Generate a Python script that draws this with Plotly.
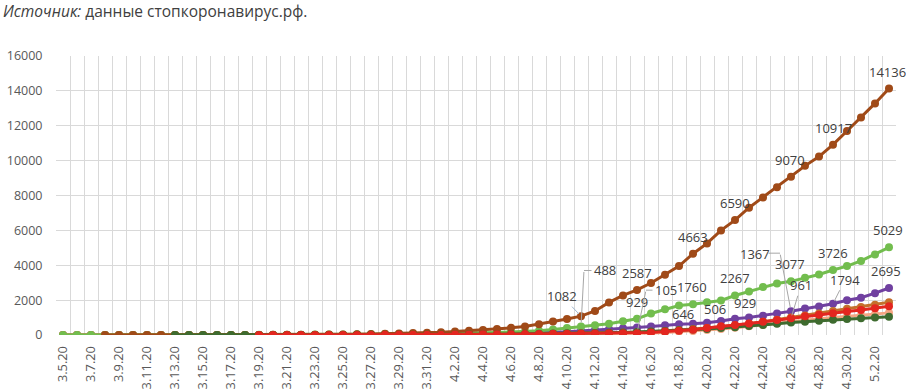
import pandas as pd
import plotly.graph_objects as go

# ---- categories (3/5/2020 .. 5/3/2020) ----
dates = pd.date_range("2020-03-05", "2020-05-03", freq="D")
date_labels = [f"{d.month}.{d.day}.20" for d in dates]
tick_idx = list(range(0, len(dates), 2))
tick_text = [date_labels[i] for i in tick_idx]

N = None
# ---- series values ----
brown = [N, N, N,
         0, 0, 0, 0, 0, 0, 1, 1, 1, 2, 3,
         5, 8, 12, 17, 21, 27, 34, 42, 55, 70, 90, 110, 135, 160,
         200, 245, 290, 340, 410, 490, 610, 770, 920, 1082,
         1380, 1870, 2270, 2587, 2980, 3450, 3950, 4663, 5250, 6000, 6590, 7300,
         7890, 8480, 9070, 9700, 10230, 10917, 11700, 12480, 13280, 14136]

lgreen = [0, 0, 0, 0, 0, 0, 1, 1, 1, 2, 3, 4, 5, 6,
          8, 10, 13, 17, 22, 27, 33, 40, 47, 55, 62, 70, 80, 90,
          100, 115, 130, 150, 175, 205, 250, 320, 400,
          488, 560, 650, 790, 929, 1230, 1470, 1690, 1760, 1880, 1980, 2267,
          2500, 2750, 2950, 3077, 3280, 3470, 3726, 3950, 4250, 4620, 5029]

purple = [0] * 20 + [1, 2, 4, 6, 8, 12, 16, 22, 30, 40,
                     55, 70, 90, 110, 130, 160, 190, 230,
                     280, 330, 380, 430, 490, 560, 610,
                     646, 700, 800, 929, 1010, 1110, 1240, 1367, 1520, 1640,
                     1794, 1990, 2140, 2400, 2695]

red = [N] * 14 + [0, 0, 1, 1, 2, 3, 4, 5, 6, 8, 10, 13, 16, 20, 25, 30,
                  36, 42, 48, 55, 62, 70, 78, 85, 90, 95, 100,
                  105, 150, 200, 250, 300, 400, 506, 580, 660, 760, 860, 961,
                  1080, 1160, 1250, 1350, 1430, 1530, 1650]

orange = [0] * 20 + [1, 2, 3, 5, 7, 10, 14, 18,
                     22, 27, 33, 40, 48, 57, 67, 78, 90, 100, 115, 130, 145,
                     160, 190, 230, 280, 340, 400, 470, 550, 650, 760, 880, 1000,
                     1120, 1230, 1380, 1500, 1600, 1740, 1874]

salmon = [0] * 22 + [1, 2, 3, 4, 6, 8,
                     10, 13, 16, 20, 25, 30, 36, 43, 50, 58, 66, 75, 85,
                     95, 120, 150, 190, 230, 280, 340, 410, 500, 580, 680, 780,
                     860, 930, 1000, 1060, 1120, 1190, 1269]

dgreen = [N] * 8 + [0, 0, 0, 0, 0, 0, 1, 1, 2, 3, 4, 5, 7, 9, 11, 14, 17, 20, 24, 28,
                    32, 37, 43, 50, 57, 65, 75, 85, 95, 105, 120, 135, 150,
                    170, 200, 235, 270, 310, 350, 400, 450, 510, 570, 640, 710,
                    760, 820, 870, 920, 960, 1000, 1040]

series = {
    "P": (purple, "#7040A0"),
    "S": (salmon, "#F4A582"),
    "O": (orange, "#C4702C"),
    "G": (lgreen, "#72BD4E"),
    "B": (brown, "#A04A18"),
    "D": (dgreen, "#3E6B2F"),
    "R": (red, "#E3261F"),
}

x = list(range(len(dates)))
X0, X1 = -0.5, len(dates) - 0.5

fig = go.Figure()
for key, (vals, col) in series.items():
    fig.add_trace(go.Scatter(
        x=x, y=vals, mode="lines+markers", name=key,
        line=dict(color=col, width=3),
        marker=dict(color=col, size=8),
        connectgaps=False, showlegend=False, hoverinfo="skip"))

LBL_FONT = dict(family="Open Sans", size=13, color="#404040")
LEAD = "#A6A6A6"

# plain labels: (series, index, xshift, yshift)
plain = [
    ("B", 41, 0, 17), ("B", 45, 0, 17), ("B", 48, 0, 17), ("B", 52, -1, 17),
    ("B", 55, 0, 17), ("B", 59, -2, 17),
    ("G", 41, 0, 17), ("G", 45, -1, 17), ("G", 48, 0, 17), ("G", 52, -1, 17),
    ("G", 55, 0, 17), ("G", 59, -1, 17),
    ("P", 45, -10, 10), ("P", 48, 10, 16), ("P", 59, -3, 17),
    ("R", 47, -6, 17),
]
for key, i, xs, ys in plain:
    v = series[key][0][i]
    fig.add_annotation(x=i, y=v, text=f"{v}",
                       showarrow=False, xshift=xs, yshift=ys,
                       font=LBL_FONT, xanchor="center", yanchor="middle")

# labels with straight leader lines: (series, index, ax, ay, color)
arrowed = [("B", 37, -19, -20, "#9FB6CD"), ("R", 52, 10, -33, LEAD), ("P", 55, 12, -24, LEAD)]
for key, i, ax, ay, col in arrowed:
    v = series[key][0][i]
    fig.add_annotation(x=i, y=v, text=f"{v}",
                       showarrow=True, ax=ax, ay=ay,
                       arrowhead=0, arrowwidth=1, arrowcolor=col, standoff=3,
                       font=LBL_FONT)

# labels with elbow leaders: (series, index, text dx, text dy, line ax, ay, hook)
elbow = [("G", 37, 24, 56, 3, -56, 9), ("R", 41, 29, 43, 9, -43, 8),
         ("P", 52, -36, 57, -11, -58, -13)]
for key, i, tdx, tdy, ax, ay, hook in elbow:
    v = series[key][0][i]
    fig.add_annotation(x=i, y=v, text=f"{v}",
                       showarrow=False, xshift=tdx, yshift=tdy, font=LBL_FONT)
    fig.add_annotation(x=i, y=v, text="",
                       showarrow=True, ax=ax, ay=ay,
                       arrowhead=0, arrowwidth=1, arrowcolor=LEAD, standoff=4)
    fig.add_annotation(x=i, y=v, text="",
                       showarrow=True, ax=hook, ay=0,
                       xshift=ax, yshift=-ay, arrowhead=0, arrowwidth=1,
                       arrowcolor=LEAD, standoff=0)

# source line at top-left
fig.add_annotation(xref="paper", yref="paper", x=0, y=1, xanchor="left", yanchor="middle",
                   xshift=-55, yshift=45, showarrow=False,
                   text="<i>Источник:</i> данные стопкоронавирус.рф.",
                   font=dict(family="Open Sans", size=15.5, color="#404040"))

fig.update_layout(
    width=906, height=389,
    margin=dict(l=56, r=10, t=56, b=54),
    paper_bgcolor="white", plot_bgcolor="white",
    font=dict(family="Open Sans", color="#595959"),
)
fig.update_xaxes(
    range=[X0, X1], automargin=False,
    tickmode="array", tickvals=tick_idx, ticktext=tick_text,
    tickangle=-90, tickfont=dict(size=12.8, color="#595959"),
    showgrid=False, zeroline=False, showline=False,
    ticks="outside", ticklen=5, tickcolor="rgba(0,0,0,0)",
    minor=dict(tickmode="linear", tick0=-0.5, dtick=1, showgrid=True,
               gridcolor="#D9D9D9", gridwidth=1, ticks=""),
)
fig.update_yaxes(
    range=[0, 16000], dtick=2000, tickformat="d", automargin=False,
    tickfont=dict(size=12.5, color="#595959"),
    showgrid=True, gridcolor="#D9D9D9", gridwidth=1,
    zeroline=False, showline=False,
    ticks="outside", ticklen=10, tickcolor="rgba(0,0,0,0)",
)
fig.write_html("out.html", config={"displayModeBar": False},
               post_script="document.body.style.margin='0px';document.body.style.padding='0px';")
